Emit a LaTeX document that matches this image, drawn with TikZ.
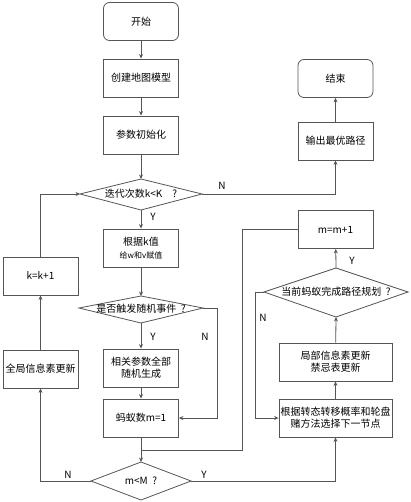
\documentclass[tikz,border=0pt]{standalone}
\usepackage{fontspec}
\setmainfont{Noto Sans CJK SC}
\usetikzlibrary{arrows.meta,shapes.geometric}
\definecolor{ln}{HTML}{555555}
\tikzset{
  box/.style={draw=ln, line width=0.8pt, minimum width=75pt, minimum height=38pt, align=center, font=\fontsize{10}{12}\selectfont, inner sep=1pt},
  wbox/.style={box, minimum width=113pt},
  rbox/.style={box, rounded corners=6pt},
  dia/.style={draw=ln, line width=0.8pt, diamond, aspect=4, inner sep=0pt, font=\fontsize{10}{12}\selectfont},
  arr/.style={draw=ln, line width=0.8pt, -{Stealth[length=4.5pt,width=4pt]}},
  ln/.style={draw=ln, line width=0.8pt},
  lab/.style={font=\fontsize{10}{12}\selectfont, inner sep=0pt}
}
\begin{document}
\begin{tikzpicture}[x=1pt,y=-1pt]
\useasboundingbox (0,0) rectangle (411,502);
\node[rbox] (start) at (141,21.5) {开始};
\node[box] (map) at (141,78) {创建地图模型};
\node[box] (init) at (141,135) {参数初始化};
\node[rbox] (end) at (335.5,78.5) {结束};
\node[box] (out) at (335.5,141) {输出最优路径};
% diamond 1
\draw[ln] (80,194) -- (141,179) -- (202,194) -- (141,210) -- cycle;
\node[lab] (d1) at (141,194) {迭代次数k<K\quad ?};
\coordinate (d1l) at (80,194); \coordinate (d1r) at (202,194);
\coordinate (d1t) at (141,179); \coordinate (d1b) at (141,210);
\node[box] (kv) at (141,248) {根据k值\\[1pt]{\fontsize{8}{10}\selectfont 给w和v赋值}};
\node[box] (kk) at (40.5,276) {k=k+1};
% diamond 2
\draw[ln] (79,308) -- (141,296) -- (203,308) -- (141,323) -- cycle;
\node[lab] (d2) at (141,308.5) {是否触发随机事件\ \ ?};
\coordinate (d2r) at (203,308); \coordinate (d2t) at (141,296); \coordinate (d2b) at (141,323);
\node[box] (rand) at (141,368) {相关参数全部\\随机生成};
\node[box] (ant) at (141,418) {蚂蚁数m=1};
\node[box] (glob) at (40.5,369) {全局信息素更新};
% diamond 3
\draw[ln] (91,481) -- (141,462) -- (191,481) -- (141,500) -- cycle;
\node[lab] (d3) at (141,481) {m<M\ \ ?};
\coordinate (d3l) at (91,481); \coordinate (d3r) at (191,481); \coordinate (d3t) at (141,462);
\node[box] (mm) at (335.5,229.5) {m=m+1};
% diamond 4
\draw[ln] (264,292) -- (336,268) -- (408,292) -- (336,317) -- cycle;
\node[lab] (d4) at (336,292) {当前蚂蚁完成路径规划\ \ ?};
\coordinate (d4l) at (264,292); \coordinate (d4t) at (336,268); \coordinate (d4b) at (336,317);
\node[wbox] (loc) at (335.5,362) {局部信息素更新\\禁忌表更新};
\node[wbox] (sel) at (335.5,418) {根据转态转移概率和轮盘\\赌方法选择下一节点};
% connectors
\draw[arr] (start) -- (map);
\draw[arr] (map) -- (init);
\draw[arr] (init) -- (d1t);
\draw[arr] (d1b) -- (kv);
\draw[arr] (kv) -- (d2t);
\draw[arr] (d2b) -- (rand);
\draw[arr] (rand) -- (ant);
\draw[arr] (d2r) -- (217,308) |- (ant.east);
\draw[arr] (ant) -- (d3t);
\draw[arr] (d1r) -| (out.south);
\draw[arr] (out) -- (end);
\draw[arr] (kk.north) |- (d1l);
\draw[arr] (glob) -- (kk);
\draw[arr] (d3l) -| (glob.south);
\draw[arr] (d3r) -| (sel.south);
\draw[arr] (sel) -- (loc);
\draw[arr] (loc) -- (d4b);
\draw[arr] (d4t) -- (mm);
\draw[ln] (mm.west) -- (242,229.5) |- (141,450);
\draw[arr] (d4l) -- (255,292) |- (sel.west);
% labels
\node[lab] at (222,186) {N};
\node[lab] at (153,217) {Y};
\node[lab] at (153,337) {Y};
\node[lab] at (205,337) {N};
\node[lab] at (68,475) {N};
\node[lab] at (204,475) {Y};
\node[lab] at (352,261) {Y};
\node[lab] at (263,318) {N};
\end{tikzpicture}
\end{document}
